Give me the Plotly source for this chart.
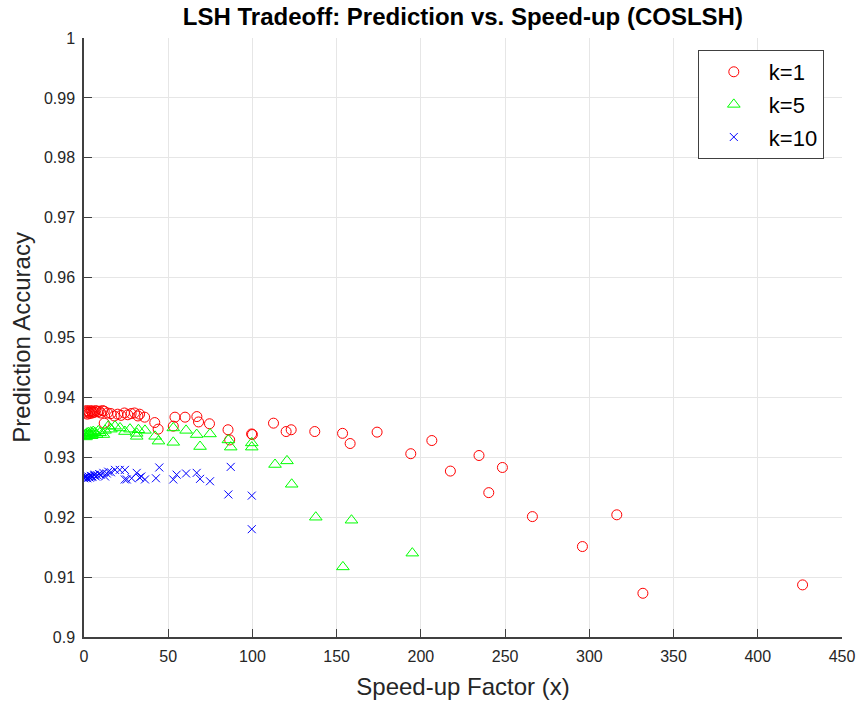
import plotly.graph_objects as go

# Speed-up factor / prediction accuracy pairs for each k
k1_speedup = [0.5, 1, 1.5, 2, 2.5, 3, 3.5, 4, 4.5, 5, 5.5, 6, 7, 8, 9, 10, 11, 12, 12,
              14, 16, 18, 20, 22, 24, 26, 28, 30, 32, 33, 36, 42, 44, 53, 54, 60, 67,
              68, 74.5, 85.5, 86.5, 99.5, 100, 112.5, 120, 123, 137, 153.5, 158, 174,
              194, 206.5, 217.5, 234.5, 240.3, 248.4, 266.2, 295.9, 316.3, 331.8, 426.6]
k1_accuracy = [0.9376, 0.9374, 0.9378, 0.9372, 0.9377, 0.9375, 0.9373, 0.9378, 0.9376,
               0.9374, 0.9377, 0.9375, 0.9378, 0.9376, 0.9377, 0.9374, 0.9378, 0.9377,
               0.9357, 0.9374, 0.9373, 0.9369, 0.9372, 0.9370, 0.9374, 0.9371, 0.9373,
               0.9374, 0.9369, 0.9372, 0.9367, 0.9358, 0.9347, 0.9352, 0.9367, 0.9367,
               0.9368, 0.9359, 0.9356, 0.9346, 0.9329, 0.9339, 0.9338, 0.9357, 0.9343,
               0.9346, 0.9343, 0.9340, 0.9323, 0.9342, 0.9306, 0.9328, 0.9277, 0.9303,
               0.9241, 0.9283, 0.9201, 0.9151, 0.9204, 0.9073, 0.9087]

k5_speedup = [0.3, 0.8, 1.2, 1.6, 2, 2.5, 3, 3.5, 4, 4.5, 5, 5.5, 6.5, 7.5, 8.5, 9.5,
              11.5, 12.5, 14.4, 16, 18.4, 21.4, 24.3, 27.3, 31.3, 31.3, 32.3, 36.2,
              42.2, 44.2, 53, 53, 60.6, 66.9, 68.9, 74.8, 85.7, 87.1, 99.6, 99.6,
              113.4, 120.5, 123.3, 137.6, 153.7, 158.8, 194.9]
k5_accuracy = [0.9335, 0.9338, 0.9334, 0.9340, 0.9336, 0.9341, 0.9337, 0.9339, 0.9342,
               0.9336, 0.9340, 0.9343, 0.9341, 0.9338, 0.9344, 0.9341, 0.9338, 0.9345,
               0.9352, 0.9347, 0.9352, 0.9349, 0.9343, 0.9347, 0.9340, 0.9335, 0.9346,
               0.9345, 0.9335, 0.9327, 0.9349, 0.9325, 0.9345, 0.9338, 0.9318, 0.9339,
               0.9329, 0.9317, 0.9324, 0.9317, 0.9288, 0.9294, 0.9255, 0.9200, 0.9117,
               0.9195, 0.9140]

k10_speedup = [0.2, 0.6, 1, 1.5, 2, 2.5, 3, 3.5, 4, 4.5, 5, 6, 6.5, 7, 8, 9, 10, 11.5,
               12.5, 13.5, 14.4, 16, 18.4, 21.2, 24.3, 24.2, 25.4, 28.3, 31.3, 33, 34,
               36.2, 42.7, 44.7, 53, 55, 60.6, 66.9, 68.9, 74.8, 85.7, 87.1, 99.6, 99.6]
k10_accuracy = [0.9265, 0.9267, 0.9266, 0.9268, 0.9265, 0.9268, 0.9267, 0.9266, 0.9269,
                0.9267, 0.9268, 0.9270, 0.9271, 0.9268, 0.9270, 0.9272, 0.9271, 0.9274,
                0.9268, 0.9273, 0.9276, 0.9275, 0.9279, 0.9279, 0.9279, 0.9263, 0.9263,
                0.9265, 0.9274, 0.9266, 0.9268, 0.9263, 0.9265, 0.9283, 0.9263, 0.9271,
                0.9273, 0.9274, 0.9264, 0.9260, 0.9238, 0.9284, 0.9236, 0.9180]

series_names = ["k=1", "k=5", "k=10"]

FONT = "Liberation Sans, Arial, Helvetica, sans-serif"
INK = "#262626"
AXIS = "#404040"

fig = go.Figure()
fig.add_trace(go.Scatter(
    x=k1_speedup, y=k1_accuracy, mode="markers", name=series_names[0],
    legendgroup="a",
    marker=dict(symbol="circle-open", size=10, color="#ff0000",
                line=dict(width=1, color="#ff0000")),
))
fig.add_trace(go.Scatter(
    x=k5_speedup, y=k5_accuracy, mode="markers", name=series_names[1],
    legendgroup="b",
    marker=dict(symbol="triangle-up-open", size=11, color="#00ff00",
                line=dict(width=1, color="#00ff00")),
))
fig.add_trace(go.Scatter(
    x=k10_speedup, y=k10_accuracy, mode="markers", name=series_names[2],
    legendgroup="c",
    marker=dict(symbol="x-thin-open", size=8, color="#0000ff",
                line=dict(width=1, color="#0000ff")),
))

fig.update_layout(
    width=858, height=701,
    margin=dict(l=84, r=16, t=38, b=64, autoexpand=False),
    paper_bgcolor="white", plot_bgcolor="white",
    font=dict(family=FONT, color=INK),
    title=dict(text="<b>LSH Tradeoff: Prediction vs. Speed-up (COSLSH)</b>",
               x=0.5395, xanchor="center", y=0.976, yanchor="middle",
               font=dict(size=24, color="black")),
    showlegend=True,
    legend=dict(x=0.976, xanchor="right", y=0.98, yanchor="top",
                bgcolor="white", bordercolor=AXIS, borderwidth=1,
                font=dict(size=22, color="black"), tracegroupgap=1,
                itemwidth=60),
)

fig.update_xaxes(
    range=[0, 450], dtick=50, tick0=0, automargin=False,
    showgrid=True, gridcolor="#e6e6e6", gridwidth=1,
    showline=True, linecolor=AXIS, linewidth=1.5,
    ticks="inside", ticklen=8, tickcolor=AXIS,
    tickfont=dict(size=16, color=INK), ticklabelstandoff=4,
    zeroline=False,
    title=dict(text="Speed-up Factor (x)", font=dict(size=24, color=INK), standoff=14),
)
fig.update_yaxes(
    range=[0.9, 1.0], dtick=0.01, tick0=0.9, automargin=False,
    showgrid=True, gridcolor="#e6e6e6", gridwidth=1,
    showline=True, linecolor=AXIS, linewidth=1.5,
    ticks="inside", ticklen=8, tickcolor=AXIS,
    tickfont=dict(size=16, color=INK), ticklabelstandoff=4,
    zeroline=False,
    title=dict(text="Prediction Accuracy", font=dict(size=24, color=INK), standoff=7),
)

fig.write_html("out.html")
